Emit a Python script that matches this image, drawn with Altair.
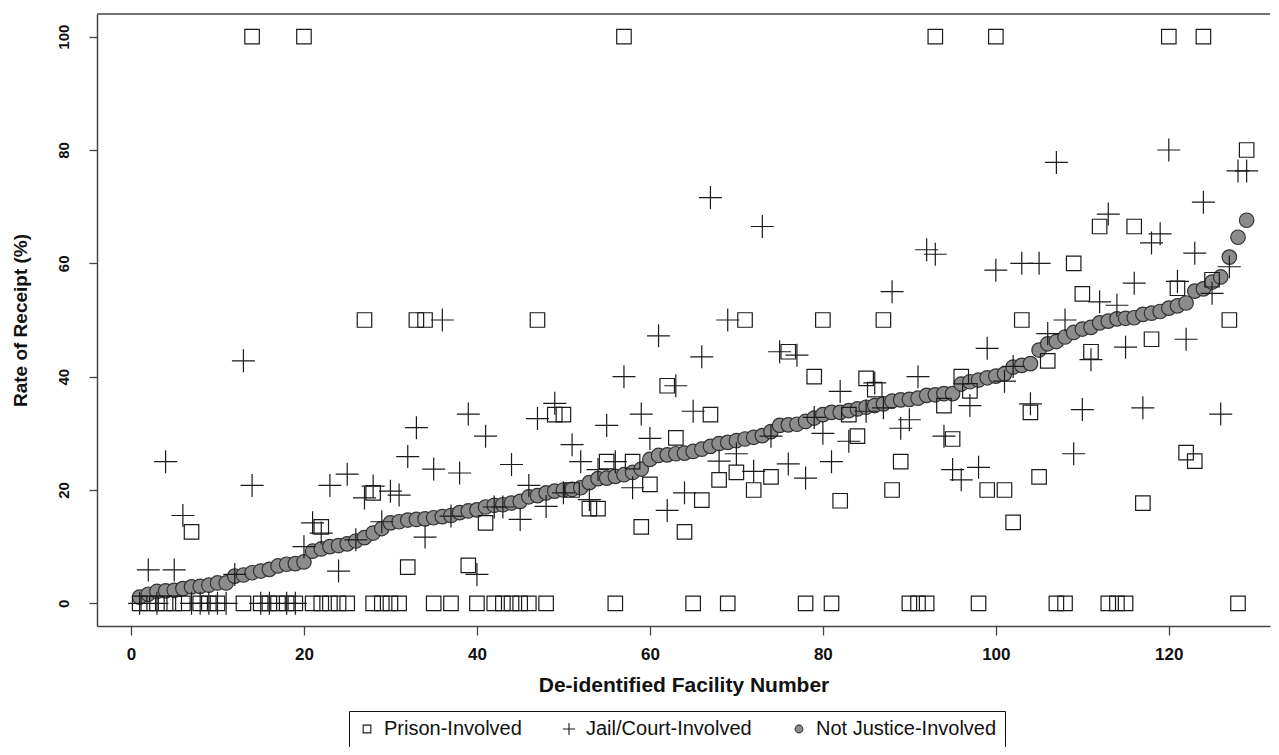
import altair as alt
import pandas as pd

groups = ["Prison-Involved", "Jail/Court-Involved", "Not Justice-Involved"]

# Not justice-involved: one value per facility 1..129 (sorted)
not_justice = [
    1.1, 1.6, 2.1, 2.2, 2.3, 2.6, 2.9, 3.0, 3.2, 3.6,
    3.6, 4.8, 5.0, 5.4, 5.7, 6.0, 6.6, 6.9, 7.0, 7.3,
    9.2, 9.6, 10.0, 10.2, 10.5, 11.0, 11.6, 12.4, 13.2, 14.2,
    14.4, 14.7, 14.8, 14.9, 15.1, 15.3, 15.5, 16.0, 16.3, 16.5,
    17.0, 17.3, 17.4, 17.7, 18.0, 18.8, 19.0, 19.5, 19.8, 20.0,
    20.1, 20.4, 21.3, 22.0, 22.1, 22.4, 22.7, 23.1, 23.7, 25.4,
    26.1, 26.2, 26.4, 26.5, 26.8, 27.2, 27.7, 28.2, 28.4, 28.7,
    29.0, 29.3, 29.6, 30.3, 31.4, 31.5, 31.6, 32.1, 32.7, 33.3,
    33.7, 33.7, 34.0, 34.3, 34.6, 34.9, 35.2, 35.7, 35.9, 36.0,
    36.2, 36.7, 36.8, 37.0, 37.0, 38.7, 39.1, 39.4, 39.8, 40.1,
    40.5, 41.7, 42.0, 42.3, 44.7, 45.8, 46.2, 47.0, 47.8, 48.4,
    48.7, 49.5, 49.8, 50.2, 50.3, 50.4, 51.0, 51.2, 51.5, 52.1,
    52.5, 53.0, 55.1, 55.5, 56.7, 57.6, 61.1, 64.6, 67.6,
]

prison_fac = [
    1, 2, 3, 4, 5, 6, 7, 8, 9, 10, 13, 14, 15, 16, 17, 18, 19, 20, 21, 22,
    22, 23, 24, 25, 27, 28, 28, 29, 30, 31, 32, 33, 34, 35, 37, 39, 40, 41, 42, 43,
    44, 45, 46, 47, 48, 49, 50, 51, 53, 54, 55, 56, 57, 58, 59, 60, 62, 63, 64, 65,
    66, 67, 68, 69, 70, 71, 72, 74, 76, 78, 79, 80, 81, 82, 83, 84, 85, 86, 87, 88,
    89, 90, 91, 92, 93, 94, 95, 96, 97, 98, 99, 100, 101, 102, 103, 104, 105, 106, 107, 108,
    109, 110, 111, 112, 113, 114, 115, 116, 117, 118, 120, 121, 122, 123, 124, 125, 127, 128, 129,
]
prison_val = [
    0, 0, 0, 0, 0, 0, 12.6, 0, 0, 0, 0, 100, 0, 0, 0, 0, 0, 100, 0, 0,
    13.5, 0, 0, 0, 50, 0, 19.5, 0, 0, 0, 6.4, 50, 50, 0, 0, 6.7, 0, 14.2, 0, 0,
    0, 0, 0, 50, 0, 33.3, 33.3, 20, 16.7, 16.7, 25, 0, 100, 25, 13.5, 21, 38.4, 29.2, 12.6, 0,
    18.2, 33.3, 21.8, 0, 23.1, 50, 20, 22.3, 44.4, 0, 40, 50, 0, 18.1, 33.3, 29.5, 39.7, 37.7, 50, 20,
    25, 0, 0, 0, 100, 34.9, 29, 40, 37.5, 0, 20, 100, 20, 14.3, 50, 33.7, 22.3, 42.8, 0, 0,
    60, 54.6, 44.4, 66.5, 0, 0, 0, 66.5, 17.7, 46.6, 100, 55.6, 26.6, 25.1, 100, 57.1, 50, 0, 80,
]

jail_fac = [
    1, 2, 3, 4, 5, 6, 7, 8, 9, 10, 11, 12, 13, 14, 15, 16, 18, 19, 20, 21,
    22, 23, 24, 25, 26, 27, 28, 29, 30, 31, 32, 33, 34, 35, 36, 37, 38, 39, 40, 41,
    42, 43, 44, 45, 46, 47, 48, 49, 50, 51, 52, 53, 54, 55, 56, 57, 58, 59, 60, 61,
    62, 63, 64, 65, 66, 67, 68, 69, 70, 72, 73, 74, 75, 76, 77, 78, 79, 80, 81, 82,
    83, 85, 86, 87, 88, 89, 90, 91, 92, 93, 94, 95, 96, 97, 98, 99, 100, 101, 102, 103,
    104, 105, 106, 107, 108, 109, 110, 111, 112, 113, 114, 115, 116, 117, 118, 119, 120, 121, 122, 123,
    124, 125, 126, 127, 128, 129,
]
jail_val = [
    0, 5.9, 0, 25, 5.9, 15.5, 0, 0, 0, 0, 0, 5.1, 42.8, 20.8, 0, 0, 0, 0, 10, 14.2,
    12.4, 20.8, 5.7, 22.8, 11.2, 18.6, 20.7, 14.4, 19.8, 19.1, 25.9, 31, 11.7, 23.7, 50, 15.4, 23, 33.4, 5.1, 29.5,
    17, 17, 24.5, 14.8, 20.8, 32.6, 17.1, 35.3, 19.5, 28, 25, 18.3, 23.6, 31.4, 25, 40, 20.4, 33.4, 29.1, 47.2,
    16.4, 38.4, 19.5, 33.9, 43.5, 71.6, 25.1, 50, 26.4, 23.3, 66.5, 29.5, 44.4, 24.6, 43.8, 22.1, 32.8, 30, 25, 37.4,
    28.6, 33.9, 38.9, 34.5, 55, 30.9, 32.4, 40, 62.4, 61.6, 29.5, 23.6, 21.8, 34.9, 24, 45, 58.8, 39.2, 41.8, 60,
    35.2, 60, 47.6, 77.8, 50, 26.4, 34.2, 43, 53.2, 68.7, 52.6, 45.2, 56.5, 34.5, 63.6, 65.2, 80, 56.8, 46.6, 61.8,
    70.8, 54.7, 33.4, 59.4, 76.3, 76.3,
]

x_ticks = [0, 20, 40, 60, 80, 100, 120]
y_ticks = [0, 20, 40, 60, 80, 100]

rows = []
for i, v in enumerate(not_justice):
    rows.append({"fac": i + 1, "rate": v, "group": groups[2]})
for f, v in zip(prison_fac, prison_val):
    rows.append({"fac": f, "rate": v, "group": groups[0]})
for f, v in zip(jail_fac, jail_val):
    rows.append({"fac": f, "rate": v, "group": groups[1]})
df = pd.DataFrame(rows)

W, H = 1173, 612
FONT = "Liberation Sans"
FRAME = "#444444"

# symbol paths in the unit box [-1, 1]; the plus spans the whole box
SQUARE = "M-0.63,-0.63H0.63V0.63H-0.63Z"
PLUS = "M-1,0H1M0,-1V1"
CIRCLE = "M-0.63,0A0.63,0.63 0 1,0 0.63,0A0.63,0.63 0 1,0 -0.63,0Z"

legend = alt.Legend(
    title=None, orient="none", legendX=252, legendY=697, direction="horizontal",
    columns=3, strokeColor="#111111", fillColor="white", padding=8,
    labelFont=FONT, labelFontSize=20, labelColor="#111111", labelOffset=7,
    labelLimit=400, columnPadding=37, symbolSize=150, symbolStrokeWidth=1.1,
)

points = alt.Chart(df).mark_point(opacity=1, strokeWidth=1.2, size=529).encode(
    x=alt.X("fac:Q", title="De-identified Facility Number",
            scale=alt.Scale(domain=[-3.93, 131.7], nice=False, zero=False),
            axis=alt.Axis(values=x_ticks, grid=False, tickSize=9, labelPadding=11,
                          titlePadding=12, labelFontSize=17, labelFontWeight="bold",
                          titleFontSize=21, titleFontWeight="bold")),
    y=alt.Y("rate:Q", title="Rate of Receipt (%)",
            scale=alt.Scale(domain=[-4, 104], nice=False, zero=False),
            axis=alt.Axis(values=y_ticks, grid=False, tickSize=8, labelAngle=270,
                          labelAlign="center", labelBaseline="bottom", labelPadding=18,
                          minExtent=42, maxExtent=42, titlePadding=25,
                          labelFontSize=15, labelFontWeight="bold",
                          titleFontSize=19, titleFontWeight="bold")),
    shape=alt.Shape("group:N", scale=alt.Scale(domain=groups, range=[SQUARE, PLUS, CIRCLE]), legend=legend),
    fill=alt.Fill("group:N", scale=alt.Scale(domain=groups, range=["rgba(0,0,0,0)", "rgba(0,0,0,0)", "#8c8c8c"]), legend=legend),
    stroke=alt.Stroke("group:N", scale=alt.Scale(domain=groups, range=["#1a1a1a", "#1a1a1a", "#333333"]), legend=legend),
)

top_border = alt.Chart(pd.DataFrame({"k": [0]})).mark_rule(color=FRAME, strokeWidth=1.5).encode(
    x=alt.value(0), x2=alt.value(W), y=alt.value(0)
)

chart = alt.layer(top_border, points).properties(
    width=W, height=H,
    autosize=alt.AutoSizeParams(type="none"),
    padding={"left": 89, "top": 6, "right": 1, "bottom": 121},
).configure_view(stroke=None).configure_axis(
    domainColor=FRAME, domainWidth=1.5, tickColor=FRAME, tickWidth=1.3,
    labelColor="#111111", titleColor="#111111", labelFont=FONT, titleFont=FONT,
)

chart.save("out.html", embed_options={"renderer": "svg", "actions": False})
